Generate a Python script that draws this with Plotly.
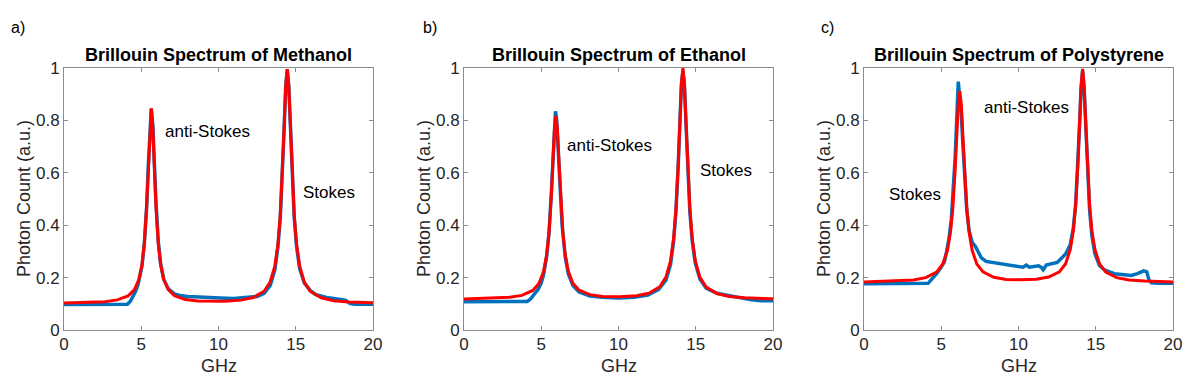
import plotly.graph_objects as go

# ---------------- data ----------------
# Panel a: Methanol
meth_fit_x = [0, 1.65, 2.65, 3.45, 4.15, 4.55, 4.85, 5.05, 5.2, 5.35, 5.45, 5.55, 5.65, 5.75, 5.85, 5.95,
              6.1, 6.25, 6.45, 6.75, 7.15, 7.85, 8.65, 10.05, 10.45, 11.45, 12.25, 12.95, 13.35, 13.65,
              13.85, 14.0, 14.15, 14.25, 14.35, 14.45, 14.55, 14.65, 14.75, 14.9, 15.05, 15.25, 15.55,
              15.95, 16.65, 17.45, 18.45, 20]
meth_fit_y = [0.103, 0.105, 0.108, 0.115, 0.130, 0.153, 0.193, 0.250, 0.331, 0.474, 0.617, 0.772, 0.846,
              0.772, 0.617, 0.475, 0.332, 0.251, 0.194, 0.154, 0.131, 0.116, 0.111, 0.109, 0.110, 0.114,
              0.124, 0.148, 0.184, 0.245, 0.328, 0.438, 0.617, 0.776, 0.929, 0.996, 0.929, 0.776, 0.617,
              0.438, 0.328, 0.245, 0.183, 0.147, 0.123, 0.112, 0.107, 0.104]
meth_data_x = [0, 1, 2, 3, 3.5, 4.1, 4.3, 4.5, 4.65, 4.8, 4.95, 5.05, 5.2, 5.35, 5.45, 5.55, 5.65, 5.75,
               5.85, 5.95, 6.1, 6.25, 6.45, 6.75, 7.15, 7.5, 8, 8.5, 9, 9.5, 10, 10.5, 11, 11.5, 12,
               12.5, 12.95, 13.35, 13.65, 13.85, 14.0, 14.15, 14.25, 14.35, 14.45, 14.55, 14.65, 14.75,
               14.9, 15.05, 15.25, 15.55, 15.95, 16.3, 16.65, 17, 17.45, 17.9, 18.2, 18.5, 18.8, 19.3, 20]
meth_data_y = [0.097, 0.097, 0.096, 0.097, 0.097, 0.098, 0.110, 0.130, 0.150, 0.175, 0.210, 0.245, 0.330,
               0.470, 0.620, 0.770, 0.845, 0.780, 0.630, 0.490, 0.340, 0.255, 0.195, 0.157, 0.138, 0.132,
               0.128, 0.126, 0.124, 0.122, 0.120, 0.121, 0.120, 0.122, 0.124, 0.128, 0.140, 0.170, 0.230,
               0.320, 0.430, 0.610, 0.770, 0.930, 0.995, 0.930, 0.770, 0.610, 0.430, 0.320, 0.235, 0.180,
               0.150, 0.135, 0.128, 0.124, 0.120, 0.118, 0.114, 0.102, 0.098, 0.098, 0.098]

# Panel b: Ethanol
eth_fit_x = [0, 1.95, 2.95, 3.75, 4.45, 4.85, 5.15, 5.35, 5.5, 5.65, 5.75, 5.85, 5.95, 6.05, 6.15, 6.25,
             6.4, 6.55, 6.75, 7.05, 7.45, 8.15, 8.95, 10.1, 11.17, 11.97, 12.67, 13.07, 13.37, 13.57,
             13.72, 13.87, 13.97, 14.07, 14.17, 14.27, 14.37, 14.47, 14.62, 14.77, 14.97, 15.27, 15.67,
             16.37, 17.17, 18.17, 20]
eth_fit_y = [0.118, 0.121, 0.125, 0.132, 0.151, 0.177, 0.223, 0.287, 0.371, 0.510, 0.637, 0.761, 0.817,
             0.761, 0.637, 0.510, 0.371, 0.288, 0.224, 0.178, 0.152, 0.135, 0.128, 0.127, 0.131, 0.140,
             0.165, 0.202, 0.265, 0.351, 0.461, 0.638, 0.792, 0.937, 1.000, 0.937, 0.792, 0.638, 0.461,
             0.350, 0.264, 0.201, 0.164, 0.139, 0.128, 0.123, 0.119]
eth_data_x = [0, 1, 2, 3, 3.6, 4.1, 4.3, 4.55, 4.8, 5.0, 5.15, 5.35, 5.5, 5.65, 5.75, 5.85, 5.92, 6.0,
              6.1, 6.2, 6.35, 6.55, 6.75, 7.05, 7.45, 8.15, 8.95, 10, 11, 11.9, 12.6, 13.07, 13.37,
              13.57, 13.72, 13.87, 13.97, 14.07, 14.17, 14.27, 14.37, 14.47, 14.62, 14.77, 14.97, 15.27,
              15.67, 16.37, 17.17, 18, 18.6, 19.2, 20]
eth_data_y = [0.108, 0.108, 0.108, 0.108, 0.108, 0.109, 0.118, 0.135, 0.155, 0.180, 0.210, 0.280, 0.370,
              0.520, 0.650, 0.790, 0.835, 0.800, 0.690, 0.550, 0.400, 0.280, 0.215, 0.170, 0.145, 0.130,
              0.125, 0.122, 0.125, 0.133, 0.155, 0.190, 0.250, 0.340, 0.455, 0.635, 0.790, 0.935, 0.990,
              0.930, 0.785, 0.630, 0.450, 0.340, 0.255, 0.195, 0.160, 0.140, 0.131, 0.125, 0.115, 0.112,
              0.112]

# Panel c: Polystyrene
poly_fit_x = [0, 2.2, 3.2, 4.0, 4.7, 5.1, 5.4, 5.6, 5.75, 5.9, 6.0, 6.1, 6.2, 6.3, 6.4, 6.5, 6.65, 6.8,
              7.0, 7.3, 7.7, 8.4, 9.2, 10.15, 11.15, 11.95, 12.65, 13.05, 13.35, 13.55, 13.7, 13.85,
              13.95, 14.05, 14.15, 14.25, 14.35, 14.45, 14.6, 14.75, 14.95, 15.25, 15.65, 16.35, 17.15,
              18.15, 20]
poly_fit_y = [0.183, 0.187, 0.191, 0.200, 0.221, 0.252, 0.304, 0.375, 0.466, 0.612, 0.739, 0.859, 0.912,
              0.859, 0.739, 0.612, 0.466, 0.375, 0.304, 0.252, 0.222, 0.201, 0.193, 0.192, 0.194, 0.202,
              0.222, 0.253, 0.307, 0.380, 0.478, 0.640, 0.787, 0.931, 0.997, 0.931, 0.787, 0.639, 0.477,
              0.379, 0.306, 0.252, 0.221, 0.200, 0.191, 0.187, 0.183]
poly_data_x = [0, 1, 2, 3, 3.8, 4.15, 4.4, 4.7, 5.0, 5.2, 5.35, 5.5, 5.65, 5.8, 5.9, 6.0, 6.07, 6.1,
               6.13, 6.2, 6.3, 6.4, 6.5, 6.65, 6.8, 7.0, 7.2, 7.4, 7.6, 7.9, 8.3, 8.8, 9.1, 9.5, 10.0,
               10.3, 10.5, 10.7, 11.0, 11.3, 11.5, 11.6, 11.8, 12.2, 12.5, 12.8, 13.05, 13.35, 13.55,
               13.7, 13.85, 13.95, 14.05, 14.15, 14.25, 14.35, 14.45, 14.6, 14.75, 14.95, 15.25, 15.6,
               16.2, 16.8, 17.3, 17.7, 18.1, 18.3, 18.45, 18.6, 19, 20]
poly_data_y = [0.177, 0.177, 0.177, 0.177, 0.177, 0.178, 0.195, 0.215, 0.240, 0.260, 0.300, 0.350, 0.420,
               0.560, 0.660, 0.800, 0.900, 0.948, 0.930, 0.880, 0.820, 0.710, 0.590, 0.460, 0.380, 0.335,
               0.320, 0.300, 0.275, 0.262, 0.258, 0.252, 0.248, 0.245, 0.242, 0.240, 0.248, 0.240, 0.242,
               0.245, 0.238, 0.230, 0.248, 0.255, 0.258, 0.275, 0.290, 0.325, 0.390, 0.480, 0.630, 0.780,
               0.920, 0.990, 0.920, 0.770, 0.620, 0.460, 0.360, 0.290, 0.245, 0.228, 0.215, 0.210, 0.208,
               0.215, 0.226, 0.222, 0.190, 0.180, 0.178, 0.178]

titles = ["Brillouin Spectrum of Methanol", "Brillouin Spectrum of Ethanol",
          "Brillouin Spectrum of Polystyrene"]
panel_tags = ["a)", "b)", "c)"]
x_ticks = [0, 5, 10, 15, 20]
y_ticks = [0, 0.2, 0.4, 0.6, 0.8, 1]
y_tick_text = ["0", "0.2", "0.4", "0.6", "0.8", "1"]
# (text, x GHz, y) for the peak labels
peak_labels = [
    [("anti-Stokes", 6.41, 0.756), ("Stokes", 15.32, 0.526)],
    [("anti-Stokes", 6.56, 0.706), ("Stokes", 15.13, 0.608)],
    [("anti-Stokes", 7.62, 0.850), ("Stokes", 1.51, 0.518)],
]

# ---------------- figure ----------------
W, H = 1200, 389
FONT = "Liberation Sans, Arial, Helvetica, sans-serif"
BLUE = "#0072BD"
RED = "#FF0000"
AXC = "#8c8c8c"
TXT = "#262626"

x_px = [(64, 373), (464, 773), (864, 1173)]
y_top, y_bot = 68, 330
ydom = [1 - y_bot / H, 1 - y_top / H]

series = [(meth_data_x, meth_data_y, meth_fit_x, meth_fit_y),
          (eth_data_x, eth_data_y, eth_fit_x, eth_fit_y),
          (poly_data_x, poly_data_y, poly_fit_x, poly_fit_y)]

fig = go.Figure()
annotations = []
layout = {}
for i, (dx, dy, fx, fy) in enumerate(series):
    n = "" if i == 0 else str(i + 1)
    xa, ya = "x" + n, "y" + n
    fig.add_trace(go.Scatter(x=dx, y=dy, mode="lines", line=dict(color=BLUE, width=3.5),
                             xaxis=xa, yaxis=ya, showlegend=False, hoverinfo="skip"))
    fig.add_trace(go.Scatter(x=fx, y=fy, mode="lines", line=dict(color=RED, width=3),
                             xaxis=xa, yaxis=ya, showlegend=False, hoverinfo="skip"))
    x0, x1 = x_px[i]
    common = dict(showline=True, linecolor=AXC, linewidth=1, mirror="ticks", ticks="inside",
                  ticklen=4, tickcolor=AXC, tickwidth=1, showgrid=False, zeroline=False,
                  automargin=False, tickfont=dict(family=FONT, size=17, color=TXT))
    layout["xaxis" + n] = dict(domain=[x0 / W, x1 / W], range=[0, 20], tickvals=x_ticks,
                               anchor=ya, ticklabelstandoff=-1, **common)
    layout["yaxis" + n] = dict(domain=ydom, range=[0, 1], tickvals=y_ticks, ticktext=y_tick_text,
                               anchor=xa, ticklabelstandoff=0, **common)
    cx = (x0 + x1) / 2 / W
    annotations.append(dict(text="<b>" + titles[i] + "</b>", x=cx, y=1 - 55 / H, xref="paper",
                            yref="paper", xanchor="center", yanchor="middle", showarrow=False,
                            font=dict(family=FONT, size=18, color="#000000")))
    annotations.append(dict(text="GHz", x=cx, y=1 - 366 / H, xref="paper", yref="paper",
                            xanchor="center", yanchor="middle", showarrow=False,
                            font=dict(family=FONT, size=18, color=TXT)))
    annotations.append(dict(text="Photon Count (a.u.)", x=(x0 - 40) / W, y=1 - 199 / H,
                            xref="paper", yref="paper", xanchor="center", yanchor="middle",
                            textangle=-90, showarrow=False,
                            font=dict(family=FONT, size=18, color=TXT)))
    tag_x = [18, 430, 827][i]
    annotations.append(dict(text=panel_tags[i], x=tag_x / W, y=1 - 27 / H, xref="paper",
                            yref="paper", xanchor="center", yanchor="middle", showarrow=False,
                            font=dict(family=FONT, size=16, color="#000000")))
    for (t, px, py) in peak_labels[i]:
        annotations.append(dict(text=t, x=px, y=py, xref=xa, yref=ya, xanchor="left",
                                yanchor="middle", showarrow=False,
                                font=dict(family=FONT, size=17, color="#000000")))

fig.update_layout(width=W, height=H, margin=dict(l=0, r=0, t=0, b=0, pad=0, autoexpand=False),
                  paper_bgcolor="white", plot_bgcolor="white", annotations=annotations,
                  **layout)
fig.write_html("out.html", config={"displayModeBar": False},
               post_script="document.body.style.margin='0';document.body.style.overflow='hidden';")
